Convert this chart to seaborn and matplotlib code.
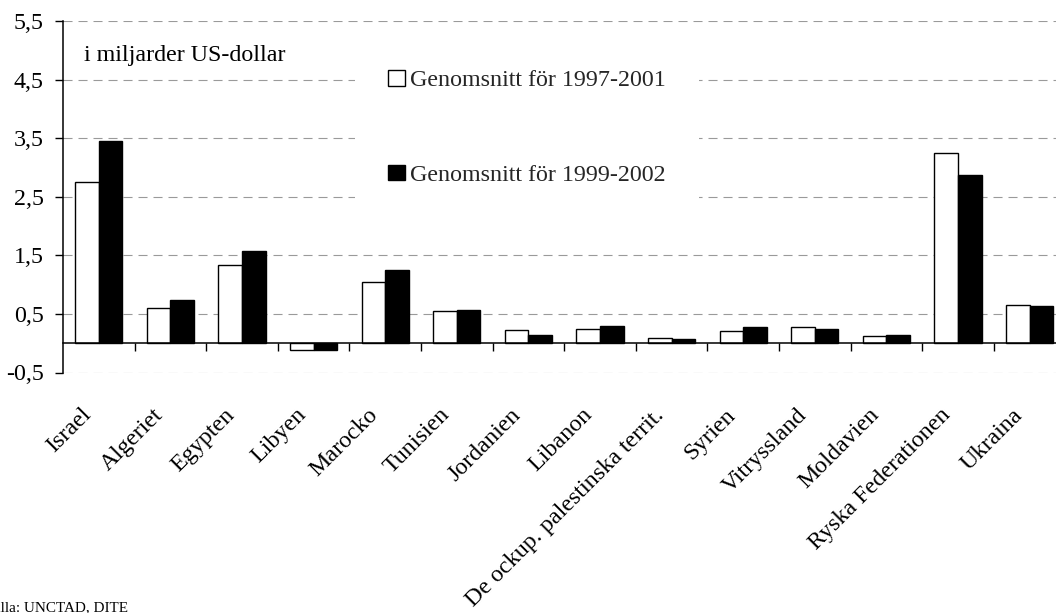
import matplotlib
matplotlib.use("Agg")
import matplotlib.pyplot as plt
import matplotlib.transforms as mtransforms
from matplotlib.patches import Patch
from matplotlib.ticker import FixedLocator, FuncFormatter
import seaborn as sns
import pandas as pd

# ---------------- data ----------------
categories = ["Israel", "Algeriet", "Egypten", "Libyen", "Marocko", "Tunisien",
              "Jordanien", "Libanon", "De ockup. palestinska territ.", "Syrien",
              "Vitryssland", "Moldavien", "Ryska Federationen", "Ukraina"]
series_labels = ["Genomsnitt för 1997-2001", "Genomsnitt för 1999-2002"]
values_1997_2001 = [2.75, 0.60, 1.33, -0.11, 1.04, 0.55, 0.22, 0.25, 0.09, 0.20, 0.27, 0.12, 3.25, 0.66]
values_1999_2002 = [3.45, 0.74, 1.57, -0.11, 1.25, 0.57, 0.145, 0.29, 0.07, 0.27, 0.25, 0.135, 2.87, 0.64]
y_ticks = [-0.5, 0.5, 1.5, 2.5, 3.5, 4.5, 5.5]
unit_note = "i miljarder US-dollar"
source_note = "Källa: UNCTAD, DITE"

df = pd.DataFrame({
    "land": categories * 2,
    "serie": [series_labels[0]] * len(categories) + [series_labels[1]] * len(categories),
    "värde": values_1997_2001 + values_1999_2002,
})

# ---------------- style ----------------
sns.set_theme(style="white")
plt.rcParams["font.family"] = ["Liberation Serif", "DejaVu Serif"]
plt.rcParams["lines.scale_dashes"] = False
FS = 17.3

W, H = 1056, 613
fig = plt.figure(figsize=(W / 100, H / 100), dpi=100)
ax_left, ax_right, ax_top, ax_bottom = 63, 1056, 21, 372.5
cat_px = 71.6  # width of one category in pixels (plot continues past the right edge)
ax = fig.add_axes([ax_left / W, (H - ax_bottom) / H, (ax_right - ax_left) / W, (ax_bottom - ax_top) / H])

colors = ["white", "black"]
sns.barplot(data=df, x="land", y="värde", hue="serie", order=categories,
            hue_order=series_labels, palette=colors, saturation=1,
            edgecolor="black", linewidth=1.0, width=0.66, gap=0,
            legend=False, ax=ax, zorder=3)

n = len(categories)
ax.set_xlim(-0.5, -0.5 + (ax_right - ax_left) / cat_px)
ax.set_ylim(y_ticks[0], y_ticks[-1])

# gridlines (dashed gray)
ax.set_axisbelow(True)
ax.yaxis.set_major_locator(FixedLocator(y_ticks))
ax.yaxis.set_major_formatter(FuncFormatter(lambda v, p: f"{v:.1f}".replace(".", ",")))
ax.grid(axis="y", color="#9a9a9a", linestyle=(0, (6.5, 4.3)), linewidth=0.8)
ax.grid(axis="x", visible=False)

# spines
for s in ["top", "right"]:
    ax.spines[s].set_visible(False)
ax.spines["left"].set_color("black")
ax.spines["left"].set_linewidth(1.1)
ax.spines["bottom"].set_position(("data", 0))
ax.spines["bottom"].set_color("black")
ax.spines["bottom"].set_linewidth(1.1)
ax.spines["bottom"].set_zorder(4)

# y ticks
ax.tick_params(axis="y", which="major", left=True, direction="out", length=5.8,
               width=1.0, color="black", pad=8, labelsize=FS, labelcolor="black")

# x ticks: labels at category centres, tick marks at boundaries
ax.xaxis.set_major_locator(FixedLocator(list(range(n))))
ax.xaxis.set_minor_locator(FixedLocator([i + 0.5 for i in range(n)]))
ax.tick_params(axis="x", which="major", bottom=True, length=0, pad=44, labelsize=FS, labelcolor="black")
ax.tick_params(axis="x", which="minor", bottom=True, direction="out", length=5.8, width=1.0, color="black")
ax.set_xticks(range(n))
ax.set_xticklabels(categories)
offset = mtransforms.ScaledTranslation(-18 / 100, 0, fig.dpi_scale_trans)
for lab in ax.get_xticklabels():
    lab.set_rotation(45)
    lab.set_ha("right")
    lab.set_va("top")
    lab.set_rotation_mode("anchor")
    lab.set_transform(lab.get_transform() + offset)
ax.set_xlabel("")
ax.set_ylabel("")

# unit note
ax.text((84 - ax_left) / (ax_right - ax_left), (ax_bottom - 61) / (ax_bottom - ax_top), unit_note,
        transform=ax.transAxes, fontsize=FS, color="black", ha="left", va="baseline")

# legend
handles = [Patch(facecolor=c, edgecolor="black", linewidth=1.0) for c in colors]
leg = fig.legend(handles, series_labels, loc="center",
                 bbox_to_anchor=(527 / W, 1 - 128 / H), bbox_transform=fig.transFigure,
                 fontsize=FS, frameon=True, fancybox=False, framealpha=1,
                 handlelength=0.7, handleheight=0.63, handletextpad=0.2,
                 labelspacing=3.05, borderpad=1.4)
leg.get_frame().set_edgecolor("white")
leg.get_frame().set_facecolor("white")
leg.get_frame().set_linewidth(0)
leg.set_zorder(5)

# source (cropped on the left as in the original)
fig.text(-17 / W, 2 / H, source_note, fontsize=10.9, color="black", ha="left", va="baseline")

fig.savefig("out.png", dpi=100, facecolor="white")
